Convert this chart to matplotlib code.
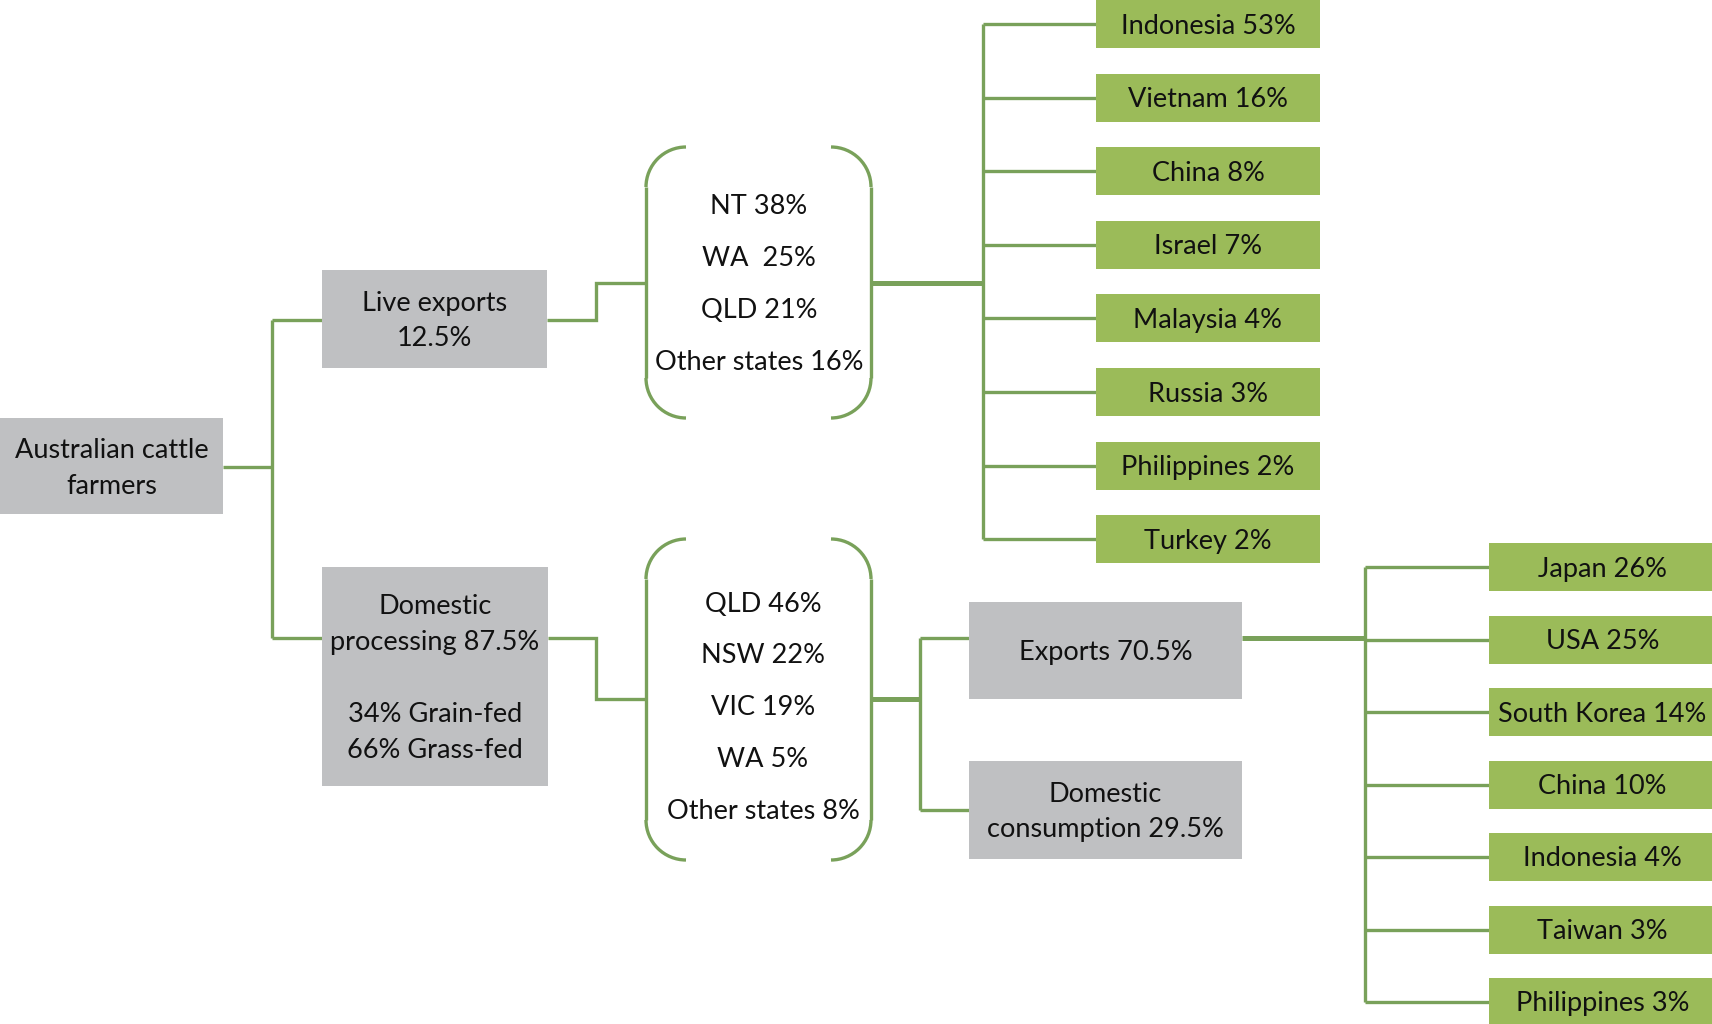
import matplotlib.pyplot as plt
from matplotlib.patches import Rectangle, Arc

plt.rcParams["font.family"] = ["Lato", "DejaVu Sans"]

# labels
root_label = "Australian cattle\nfarmers"
live_label = "Live exports\n12.5%"
proc_label = "Domestic\nprocessing 87.5%\n\n34% Grain-fed\n66% Grass-fed"
live_states = ["NT 38%", "WA  25%", "QLD 21%", "Other states 16%"]
proc_states = ["QLD 46%", "NSW 22%", "VIC 19%", "WA 5%", "Other states 8%"]
live_dest = ["Indonesia 53%", "Vietnam 16%", "China 8%", "Israel 7%",
             "Malaysia 4%", "Russia 3%", "Philippines 2%", "Turkey 2%"]
proc_split = ["Exports 70.5%", "Domestic\nconsumption 29.5%"]
export_dest = ["Japan 26%", "USA 25%", "South Korea 14%", "China 10%",
               "Indonesia 4%", "Taiwan 3%", "Philippines 3%"]

GREY = "#BFC0C2"
GREEN = "#9BBB59"
LINE = "#79A15A"
FS = 19.5
LW = 2.4

fig = plt.figure(figsize=(17.12, 10.24), dpi=100)
ax = fig.add_axes([0, 0, 1, 1])
ax.set_xlim(0, 1712)
ax.set_ylim(1024, 0)
ax.axis("off")


def box(x0, x1, y0, y1, color, text):
    ax.add_patch(Rectangle((x0, y0), x1 - x0, y1 - y0, facecolor=color,
                           edgecolor="none", zorder=2))
    ax.text((x0 + x1) / 2, (y0 + y1) / 2 + 2, text, ha="center", va="center",
            fontsize=FS, linespacing=1.55, color="#111111", zorder=3)


def line(xs, ys, lw=LW):
    ax.plot(xs, ys, color=LINE, lw=lw, solid_capstyle="butt",
            solid_joinstyle="miter", zorder=1)


def bracket(x0, x1, y0, y1, r=40):
    # left side
    ax.add_patch(Arc((x0 + r, y0 + r), 2 * r, 2 * r, theta1=180, theta2=270,
                     color=LINE, lw=LW))
    ax.add_patch(Arc((x0 + r, y1 - r), 2 * r, 2 * r, theta1=90, theta2=180,
                     color=LINE, lw=LW))
    line([x0, x0], [y0 + r, y1 - r])
    # right side
    ax.add_patch(Arc((x1 - r, y0 + r), 2 * r, 2 * r, theta1=270, theta2=360,
                     color=LINE, lw=LW))
    ax.add_patch(Arc((x1 - r, y1 - r), 2 * r, 2 * r, theta1=0, theta2=90,
                     color=LINE, lw=LW))
    line([x1, x1], [y0 + r, y1 - r])


# root and first split
box(0, 223, 418, 514, GREY, root_label)
box(322, 547, 270, 368, GREY, live_label)
box(322, 548, 567, 786, GREY, proc_label)
line([223, 272], [467, 467])
line([272, 272], [320, 638])
line([272, 322], [320, 320])
line([272, 322], [638, 638])

# live exports -> states bracket
line([547, 596, 596, 646], [320, 320, 283, 283])
bracket(646, 871, 147, 418)
for i, s in enumerate(live_states):
    ax.text(759, 207 + i * 52, s, ha="center", va="center", fontsize=FS,
            color="#111111")

# live export destinations
line([871, 983], [283, 283], lw=3.6)
top_y = [24 + i * 73.6 for i in range(len(live_dest))]
line([983, 983], [top_y[0], top_y[-1]])
for y, s in zip(top_y, live_dest):
    line([983, 1096], [y, y])
    box(1096, 1320, y - 24, y + 24, GREEN, s)

# domestic processing -> states bracket
line([548, 596, 596, 646], [638, 638, 699, 699])
bracket(646, 871, 539, 860)
for i, s in enumerate(proc_states):
    ax.text(763, 604 + i * 51.8, s, ha="center", va="center", fontsize=FS,
            color="#111111")

# exports / domestic consumption
line([871, 920], [699, 699], lw=3.6)
line([920, 920], [638, 810])
line([920, 969], [638, 638])
line([920, 969], [810, 810])
box(969, 1242, 602, 699, GREY, proc_split[0])
box(969, 1242, 761, 859, GREY, proc_split[1])

# export destinations
line([1242, 1365], [638, 638], lw=3.6)
bot_y = [567 + i * 72.5 for i in range(len(export_dest))]
line([1365, 1365], [bot_y[0], bot_y[-1]])
for y, s in zip(bot_y, export_dest):
    line([1365, 1489], [y, y])
    box(1489, 1716, y - 24, y + 24, GREEN, s)

fig.savefig("out.png", dpi=100)
